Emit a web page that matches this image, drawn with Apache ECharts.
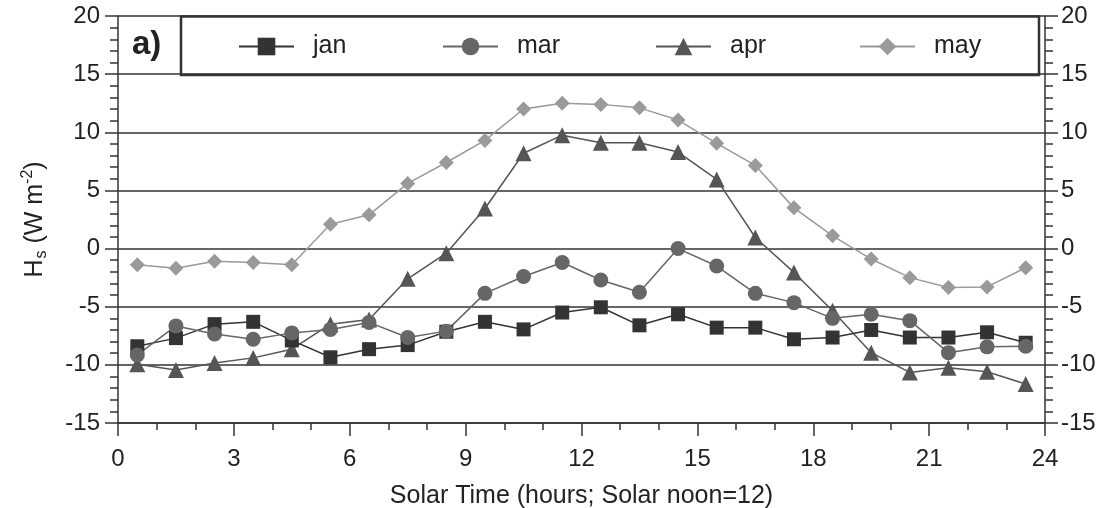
<!DOCTYPE html>
<html>
<head>
<meta charset="utf-8">
<script src="https://cdn.jsdelivr.net/npm/echarts@6/dist/echarts.min.js"></script>
<style>
html,body{margin:0;padding:0;background:#fff;}
#chart{width:1098px;height:508px;}
</style>
</head>
<body>
<div id="chart"></div>
<script>
var hours = [0.5, 1.5, 2.5, 3.5, 4.5, 5.5, 6.5, 7.5, 8.5, 9.5, 10.5, 11.5, 12.5, 13.5, 14.5, 15.5, 16.5, 17.5, 18.5, 19.5, 20.5, 21.5, 22.5, 23.5];
var jan = [-8.4, -7.7, -6.5, -6.3, -7.9, -9.35, -8.65, -8.3, -7.15, -6.3, -6.95, -5.5, -5.05, -6.6, -5.65, -6.8, -6.8, -7.8, -7.65, -7.0, -7.65, -7.65, -7.2, -8.1];
var mar = [-9.15, -6.65, -7.35, -7.8, -7.25, -6.95, -6.35, -7.65, -7.1, -3.85, -2.4, -1.2, -2.7, -3.75, 0.0, -1.5, -3.85, -4.65, -6.0, -5.65, -6.2, -8.95, -8.45, -8.4];
var apr = [-9.95, -10.45, -9.85, -9.4, -8.65, -6.5, -6.1, -2.6, -0.4, 3.45, 8.2, 9.75, 9.1, 9.1, 8.3, 5.95, 0.95, -2.05, -5.35, -8.95, -10.65, -10.25, -10.6, -11.65];
var may = [-1.4, -1.7, -1.1, -1.2, -1.4, 2.1, 2.9, 5.6, 7.4, 9.3, 12.0, 12.5, 12.4, 12.1, 11.05, 9.05, 7.15, 3.5, 1.1, -0.9, -2.5, -3.35, -3.3, -1.65];
var seriesNames = ['jan', 'mar', 'apr', 'may'];
var xTitle = 'Solar Time (hours; Solar noon=12)';
var panelLabel = 'a)';

function pairs(vals) {
  return hours.map(function (h, i) { return [h, vals[i]]; });
}

var FONT = 'Liberation Sans, Arial, sans-serif';
var chart = echarts.init(document.getElementById('chart'), null, {renderer: 'canvas'});

var styles = {
  jan: {color: '#333333', symbol: 'rect', size: 14},
  mar: {color: '#666666', symbol: 'circle', size: 15},
  apr: {color: '#555555', symbol: 'triangle', size: 16},
  may: {color: '#9a9a9a', symbol: 'diamond', size: 15}
};
var dataMap = {jan: jan, mar: mar, apr: apr, may: may};
var drawOrder = ['may', 'apr', 'jan', 'mar'];

function mkSeries(name) {
  var s = styles[name];
  return {
    name: name,
    type: 'line',
    data: pairs(dataMap[name]),
    symbol: s.symbol,
    symbolSize: s.size,
    showAllSymbol: true,
    animation: false,
    lineStyle: {color: s.color, width: 1.5},
    itemStyle: {color: s.color, borderWidth: 0}
  };
}

var legendLeft = {jan: 238, mar: 442, apr: 655, may: 859};
function mkLegend(name) {
  return {
    data: [name],
    left: legendLeft[name],
    top: 34,
    padding: 0,
    z: 20,
    itemWidth: 55,
    itemHeight: 22,
    textStyle: {fontFamily: FONT, fontSize: 25, color: '#222', padding: [0, 0, 0, 14], lineHeight: 24},
    selectedMode: false
  };
}

var axisLabelStyle = {fontFamily: FONT, fontSize: 24, color: '#222'};

var option = {
  backgroundColor: '#ffffff',
  animation: false,
  grid: {left: 118, top: 16, width: 927, height: 407, containLabel: false, outerBoundsMode: 'none'},
  legend: seriesNames.map(mkLegend),
  xAxis: {
    type: 'value',
    min: 0, max: 24, interval: 3,
    axisLine: {show: true, onZero: false, lineStyle: {color: '#333', width: 1.5}},
    axisTick: {show: true, length: 13, inside: false, lineStyle: {color: '#333', width: 1.5}},
    minorTick: {show: true, splitNumber: 3, length: 7, lineStyle: {color: '#333', width: 1.5}},
    axisLabel: Object.assign({margin: 24}, axisLabelStyle),
    splitLine: {show: false},
    name: xTitle,
    nameLocation: 'middle',
    nameGap: 61,
    nameTextStyle: {fontFamily: FONT, fontSize: 25, color: '#222'}
  },
  yAxis: [{
    type: 'value',
    position: 'left',
    min: -15, max: 20, interval: 5,
    axisLine: {show: true, onZero: false, lineStyle: {color: '#333', width: 1.5}},
    axisTick: {show: true, length: 13, lineStyle: {color: '#333', width: 1.5}},
    minorTick: {show: true, splitNumber: 5, length: 8, lineStyle: {color: '#333', width: 1.5}},
    axisLabel: Object.assign({margin: 18}, axisLabelStyle),
    splitLine: {show: true, lineStyle: {color: '#333', width: 1.5}},
    name: '{a|H}{b|s}{a| (W m}{c|-2}{a|)}',
    nameLocation: 'middle',
    nameRotate: 90,
    nameGap: 68,
    nameTextStyle: {
      fontFamily: FONT, fontSize: 25, color: '#222',
      rich: {
        a: {fontFamily: FONT, fontSize: 25, color: '#222', lineHeight: 30, verticalAlign: 'middle'},
        b: {fontFamily: FONT, fontSize: 16, color: '#222', lineHeight: 30, verticalAlign: 'bottom', padding: [12, 0, 0, 1]},
        c: {fontFamily: FONT, fontSize: 16, color: '#222', lineHeight: 30, verticalAlign: 'top', padding: [0, 0, 10, 0]}
      }
    }
  }, {
    type: 'value',
    position: 'right',
    min: -15, max: 20, interval: 5,
    axisLine: {show: true, onZero: false, lineStyle: {color: '#333', width: 1.5}},
    axisTick: {show: true, length: 13, lineStyle: {color: '#333', width: 1.5}},
    minorTick: {show: true, splitNumber: 5, length: 8, lineStyle: {color: '#333', width: 1.5}},
    axisLabel: Object.assign({margin: 16}, axisLabelStyle),
    splitLine: {show: false}
  }],
  graphic: [
    {type: 'rect', z: 1, shape: {x: 181, y: 16.5, width: 858, height: 58.5},
     style: {fill: 'transparent', stroke: '#333', lineWidth: 2.5}},
    {type: 'line', z: 1, shape: {x1: 181, y1: 16.5, x2: 181, y2: 75}, style: {stroke: '#333', lineWidth: 1.5}},
    {type: 'text', z: 2, left: 132, top: 28,
     style: {text: panelLabel, font: 'bold 33px ' + FONT, fill: '#222'}}
  ],
  series: drawOrder.map(mkSeries)
};
chart.setOption(option);
</script>
</body>
</html>
